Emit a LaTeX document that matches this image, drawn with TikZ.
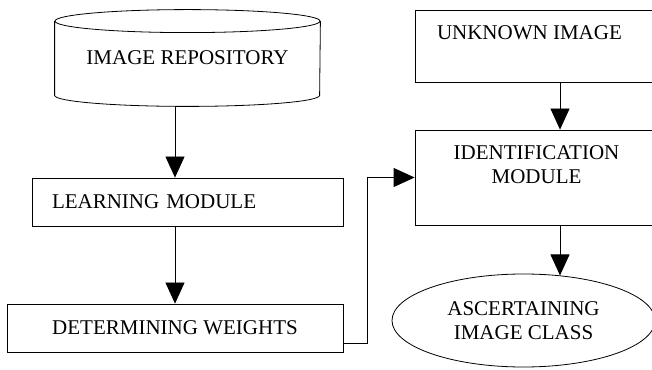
\documentclass[tikz,border=0pt]{standalone}
\usepackage{fontspec}
\setmainfont{Liberation Serif}
\usetikzlibrary{arrows.meta,shapes.geometric}

\begin{document}
\begin{tikzpicture}[x=1pt,y=1pt,line width=0.8pt]
        \tikzstyle{every node}=[font=\fontsize{21}{24}\selectfont, inner sep=0pt]
        \tikzstyle{box}=[draw, rectangle]
        \tikzstyle{arr}=[-{Triangle[length=21pt,width=19pt]}]
        \useasboundingbox (0,0) rectangle (652,369);
        % left column
        \node[minimum width=265pt, minimum height=96pt] (repo) at (187.5,311) {IMAGE REPOSITORY};
        \draw ([yshift=-11.5pt]repo.north) ellipse (132.5 and 11.5);
        \draw ([yshift=-11.5pt]repo.north west) -- ([yshift=11pt]repo.south west) arc (180:360:132.5 and 11) -- ([yshift=-11.5pt]repo.north east);
        \node[box, text width=271pt, align=left, inner xsep=20pt, minimum height=48pt] (learn) at (187.5,167) {LEARNING MODULE};
        \node[box, minimum width=336pt, minimum height=48pt] (weights) at (175,41) {DETERMINING WEIGHTS};
        % right column
        \node[box, minimum width=245pt, minimum height=72pt] (unknown) at (537.5,323) {};
        \node[anchor=north west] (unknowntxt) at ([xshift=22pt,yshift=-16pt]unknown.north west) {UNKNOWN IMAGE};
        \node[box, minimum width=245pt, minimum height=95pt] (ident) at (537.5,191.5) {};
        \node[anchor=north, align=center] (identtxt) at ([xshift=-1pt,yshift=-16pt]ident.north) {IDENTIFICATION\\MODULE};
        \node[draw, ellipse, minimum width=263pt, minimum height=93pt, align=center] (ascertain) at (523.5,48.5) {ASCERTAINING\\IMAGE CLASS};
        % connectors
        \draw[arr] (repo.south -| weights.north) -- (learn.north -| weights.north);
        \draw[arr] (learn.south -| weights.north) -- (weights.north);
        \draw[arr] ([yshift=9pt]weights.south east) -- ++(24,0) |- (ident.west);
        \draw[arr] ([xshift=22.5pt]unknown.south) -- ([xshift=22.5pt]ident.north);
        \draw[arr] ([xshift=22.5pt]ident.south) -- ([xshift=22.5pt]ident.south |- ascertain.51);
    \end{tikzpicture}
\end{document}
